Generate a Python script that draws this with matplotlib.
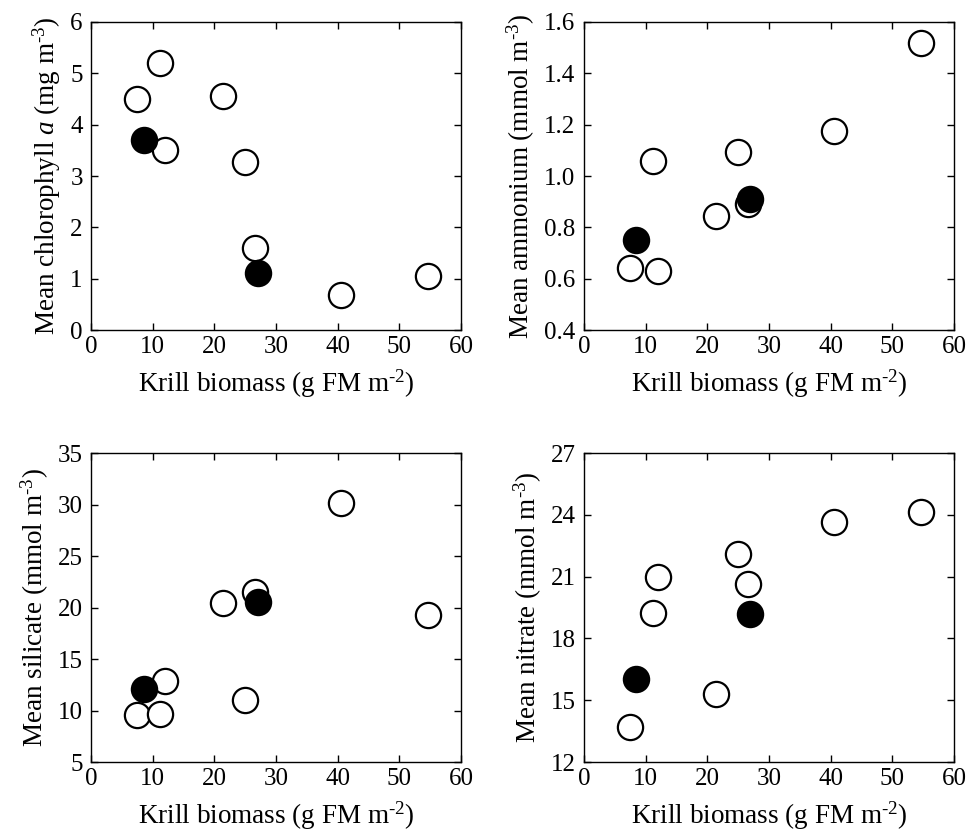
import matplotlib
matplotlib.use("Agg")
import matplotlib.pyplot as plt

plt.rcParams["font.family"] = ["Liberation Serif", "DejaVu Serif"]
plt.rcParams["mathtext.fontset"] = "custom"
plt.rcParams["mathtext.rm"] = "Liberation Serif"
plt.rcParams["mathtext.it"] = "Liberation Serif:italic"

# krill biomass (g FM m-2)
open_x = [7.4, 11.2, 12.0, 21.4, 25.0, 26.6, 40.5, 54.6]
filled_x = [8.5, 27.0]

chl_open = [4.5, 5.2, 3.5, 4.55, 3.28, 1.6, 0.69, 1.05]
chl_filled = [3.7, 1.12]
amm_open = [0.643, 1.057, 0.628, 0.843, 1.092, 0.892, 1.176, 1.519]
amm_filled = [0.751, 0.91]
sil_open = [9.54, 9.64, 12.88, 20.47, 11.07, 21.5, 30.17, 19.27]
sil_filled = [12.07, 20.5]
nit_open = [13.69, 19.25, 20.97, 15.32, 22.1, 20.63, 23.64, 24.16]
nit_filled = [16.02, 19.17]

xlabel = "Krill biomass (g FM m$^{\\text{-2}}$)"
panels = [
    (chl_open, chl_filled, "Mean chlorophyll $\\mathit{a}$ (mg m$^{\\text{-3}}$)",
     (0, 6), [0, 1, 2, 3, 4, 5, 6], ["0", "1", "2", "3", "4", "5", "6"]),
    (amm_open, amm_filled, "Mean ammonium (mmol m$^{\\text{-3}}$)",
     (0.4, 1.6), [0.4, 0.6, 0.8, 1.0, 1.2, 1.4, 1.6],
     ["0.4", "0.6", "0.8", "1.0", "1.2", "1.4", "1.6"]),
    (sil_open, sil_filled, "Mean silicate (mmol m$^{\\text{-3}}$)",
     (5, 35), [5, 10, 15, 20, 25, 30, 35], ["5", "10", "15", "20", "25", "30", "35"]),
    (nit_open, nit_filled, "Mean nitrate (mmol m$^{\\text{-3}}$)",
     (12, 27), [12, 15, 18, 21, 24, 27], ["12", "15", "18", "21", "24", "27"]),
]

fig = plt.figure(figsize=(9.7, 8.3), dpi=100)
positions = [
    [0.094, 0.6024, 0.3814, 0.3711],
    [0.602, 0.6024, 0.3814, 0.3711],
    [0.094, 0.0819, 0.3814, 0.3721],
    [0.602, 0.0819, 0.3814, 0.3721],
]

for pos, (yo, yf, ylab, ylim, yticks, yticklabels) in zip(positions, panels):
    ax = fig.add_axes(pos)
    ax.scatter(open_x, yo, s=330, facecolors="white", edgecolors="black",
               linewidths=1.6, zorder=3)
    ax.scatter(filled_x, yf, s=330, facecolors="black", edgecolors="black",
               linewidths=1.6, zorder=4)
    ax.set_xlim(0, 60)
    ax.set_ylim(*ylim)
    ax.set_xticks([0, 10, 20, 30, 40, 50, 60])
    ax.set_yticks(yticks)
    ax.set_yticklabels(yticklabels)
    ax.tick_params(direction="in", top=True, right=True, length=5, width=1,
                   labelsize=18)
    ax.tick_params(axis="x", pad=4)
    ax.tick_params(axis="y", pad=6)
    for sp in ax.spines.values():
        sp.set_linewidth(1)
    ax.set_xlabel(xlabel, fontsize=19.5, labelpad=7)
    ax.set_ylabel(ylab, fontsize=19.5, labelpad=5)

fig.savefig("out.png", dpi=100)
